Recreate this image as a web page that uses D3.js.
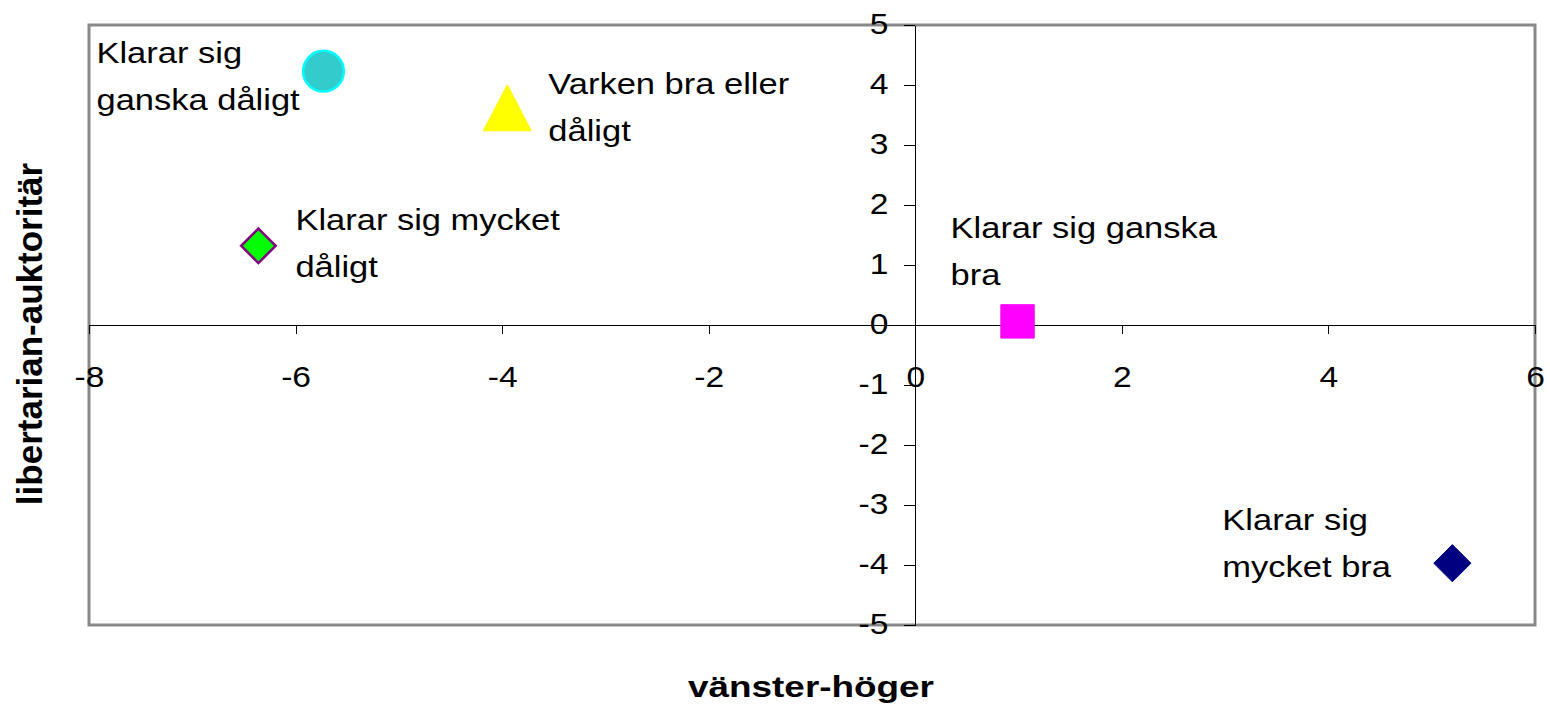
<!DOCTYPE html>
<html>
<head>
<meta charset="utf-8">
<title>vänster-höger / libertarian-auktoritär</title>
<script src="https://d3js.org/d3.v7.min.js"></script>
<style>
  body { margin: 0; background: #fff; }
  text { font-family: "Liberation Sans", Arial, sans-serif; fill: #000; }
  .axis path, .axis line { stroke: #000; stroke-width: 1; shape-rendering: crispEdges; }
</style>
</head>
<body>
<div id="chart"></div>
<script>
// data
var categories = ["Klarar sig mycket bra", "Klarar sig ganska bra", "Varken bra eller dåligt",
                  "Klarar sig ganska dåligt", "Klarar sig mycket dåligt"];
var xValues = [5.20, 0.99, -3.95, -5.73, -6.36];
var yValues = [-3.97, 0.06, 3.62, 4.23, 1.32];
var labelLines = [["Klarar sig", "mycket bra"], ["Klarar sig ganska", "bra"], ["Varken bra eller", "dåligt"],
                  ["Klarar sig", "ganska dåligt"], ["Klarar sig mycket", "dåligt"]];
var xTicks = [-8, -6, -4, -2, 0, 2, 4, 6];
var yTicks = [-5, -4, -3, -2, -1, 0, 1, 2, 3, 4, 5];

// label placement relative to its marker
var labelOffsets = [[-230, -33], [-67, -83], [41, -14], [-227, -8], [37, -16]];

var width = 1550, height = 708;
var plotLeft = 89, plotRight = 1535, plotTop = 25, plotBottom = 625;

var svg = d3.select("#chart").append("svg")
    .attr("width", width)
    .attr("height", height);

var x = d3.scaleLinear().domain([-8, 6]).range([plotLeft, plotRight]);
var y = d3.scaleLinear().domain([-5, 5]).range([plotBottom, plotTop]);

// frame
svg.append("rect")
    .attr("x", plotLeft).attr("y", plotTop)
    .attr("width", plotRight - plotLeft).attr("height", plotBottom - plotTop)
    .attr("fill", "none")
    .attr("stroke", "#888")
    .attr("stroke-width", 3);

var fmt = function(d) { return String(d); };

// x axis through y=0
var gx = svg.append("g")
    .attr("class", "axis")
    .attr("transform", "translate(0," + y(0) + ")")
    .call(d3.axisBottom(x).tickValues(xTicks).tickFormat(fmt).tickSize(9).tickPadding(32).tickSizeOuter(0));
gx.selectAll("text")
    .style("font-size", "30px")
    .attr("transform", "scale(1.12,1)");

// y axis through x=0
var gy = svg.append("g")
    .attr("class", "axis")
    .attr("transform", "translate(" + x(0) + ",0)")
    .call(d3.axisLeft(y).tickValues(yTicks).tickFormat(fmt).tickSize(11).tickPadding(13).tickSizeOuter(0));
gy.selectAll("text")
    .style("font-size", "30px")
    .attr("dy", "0.28em")
    .attr("transform", "scale(1.12,1)");

// excel-like triangle: size = width of the marker
var excelTriangle = {
  draw: function(context, size) {
    var w = size / 2, h = size * 0.48;
    context.moveTo(0, -h);
    context.lineTo(w, h);
    context.lineTo(-w, h);
    context.closePath();
  }
};

// markers
var sym = [
  { type: d3.symbolDiamond2, size: 880, fill: "#000080", stroke: "#000080", sw: 1 },
  { type: d3.symbolSquare2, size: 1420, fill: "#ff00ff", stroke: "#ff00ff", sw: 1 },
  { type: excelTriangle, size: 48, fill: "#ffff00", stroke: "#ffff00", sw: 1 },
  { type: d3.symbolCircle, size: 1300, fill: "#33cccc", stroke: "#00ffff", sw: 2.5 },
  { type: d3.symbolDiamond2, size: 760, fill: "#00ff00", stroke: "#800080", sw: 2.5 }
];

categories.forEach(function(c, i) {
  var s = sym[i];
  var px = x(xValues[i]), py = y(yValues[i]);
  svg.append("path")
      .attr("d", d3.symbol().type(s.type).size(s.size)())
      .attr("transform", "translate(" + px + "," + py + ")")
      .attr("fill", s.fill)
      .attr("stroke", s.stroke)
      .attr("stroke-width", s.sw);

  var g = svg.append("g")
      .attr("transform", "translate(" + (px + labelOffsets[i][0]) + "," + (py + labelOffsets[i][1]) + ") scale(1.15,1)");
  labelLines[i].forEach(function(line, j) {
    g.append("text")
        .attr("x", 0)
        .attr("y", j * 47)
        .style("font-size", "30px")
        .text(line);
  });
});

// axis titles
svg.append("text")
    .attr("transform", "translate(811,697) scale(1.23,1)")
    .attr("text-anchor", "middle")
    .style("font-size", "30px")
    .style("font-weight", "bold")
    .text("vänster-höger");

svg.append("text")
    .attr("transform", "translate(42,334) rotate(-90)")
    .attr("text-anchor", "middle")
    .style("font-size", "35px")
    .style("font-weight", "bold")
    .text("libertarian-auktoritär");
</script>
</body>
</html>
